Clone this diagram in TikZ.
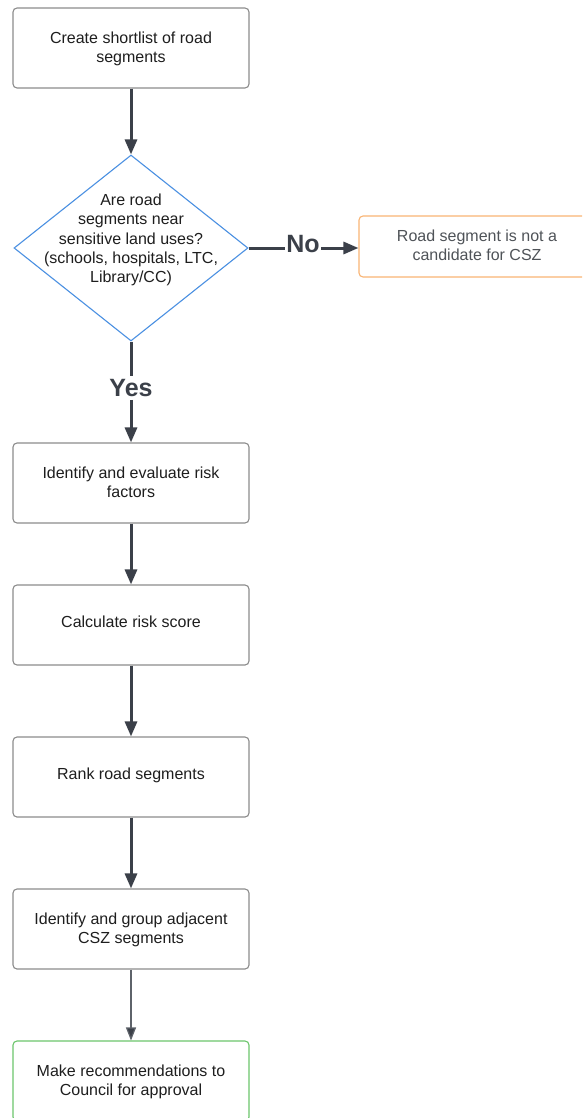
\documentclass[tikz,border=0pt]{standalone}
\usepackage{fontspec}
\setmainfont{Liberation Sans}
\usetikzlibrary{shapes.geometric,arrows.meta}
\definecolor{arr}{HTML}{3B4049}
\definecolor{boxgray}{HTML}{8C8C8C}
\definecolor{txt}{HTML}{1E1E1E}
\definecolor{notxt}{HTML}{4F5358}
\definecolor{dblue}{HTML}{4A90E2}
\definecolor{norange}{HTML}{F9B574}
\definecolor{okgreen}{HTML}{6CC56C}
\definecolor{thin}{HTML}{5E636A}
\tikzset{
  stepbox/.style={draw=boxgray, line width=1.1pt, rounded corners=4pt,
    minimum width=236pt, minimum height=80pt, inner sep=0pt, align=center,
    font=\fontsize{16}{18.7}\selectfont, text=txt},
  oneline/.style={text height=12.3pt, text depth=7.7pt},
  twoline/.style={text height=30pt, text depth=1.9pt},
  thickarrow/.style={draw=arr, line width=3pt, -{Triangle[length=15pt,width=12pt]}},
  thickline/.style={draw=arr, line width=3pt},
  thinarrow/.style={draw=thin, line width=1.2pt, -{Triangle[length=13pt,width=10pt,fill=arr]}},
  lbl/.style={font=\fontsize{25}{28}\selectfont\bfseries, text=arr}
}
\begin{document}
\begin{tikzpicture}[x=1pt,y=-1pt]
\useasboundingbox (0,0) rectangle (582,1118);
\clip (0,0) rectangle (582,1118);
\fill[white] (0,0) rectangle (582,1118);

\node[stepbox, twoline] (b1) at (131,48) {Create shortlist of road\\segments};
\node[diamond, draw=dblue, line width=1.1pt, minimum width=234pt, minimum height=186pt, inner sep=0pt] (d) at (131,248) {};
\node[align=center, font=\fontsize{16}{19.3}\selectfont, text=txt] (dt) at (131,240)
  {Are road\\segments near\\sensitive land uses?\\(schools, hospitals, LTC,\\Library/CC)};
\node[stepbox, twoline, draw=norange, minimum height=61pt, text=notxt] (nb) at (477,246.5) {Road segment is not a\\candidate for CSZ};
\node[lbl, inner sep=1.5pt] (no) at (303,244) {No};
\node[lbl, inner sep=3pt] (yes) at (131,388) {Yes};
\node[stepbox, twoline] (b2) at (131,483) {Identify and evaluate risk\\factors};
\node[stepbox, oneline] (b3) at (131,625) {Calculate risk score};
\node[stepbox, oneline] (b4) at (131,777) {Rank road segments};
\node[stepbox, twoline] (b5) at (131,929) {Identify and group adjacent\\CSZ segments};
\node[stepbox, twoline, draw=okgreen] (b6) at (131,1081) {Make recommendations to\\Council for approval};

\draw[thickarrow] (b1.south) -- (d.north);
\draw[thickline] (d.east) -- (d.east -| no.west);
\draw[thickarrow] (no.east |- d.east) -- (d.east -| nb.west);
\draw[thickline] (d.south) -- (yes.north);
\draw[thickarrow] (yes.south) -- (b2.north);
\draw[thickarrow] (b2.south) -- (b3.north);
\draw[thickarrow] (b3.south) -- (b4.north);
\draw[thickarrow] (b4.south) -- (b5.north);
\draw[thinarrow] (b5.south) -- (b6.north);
\end{tikzpicture}
\end{document}
